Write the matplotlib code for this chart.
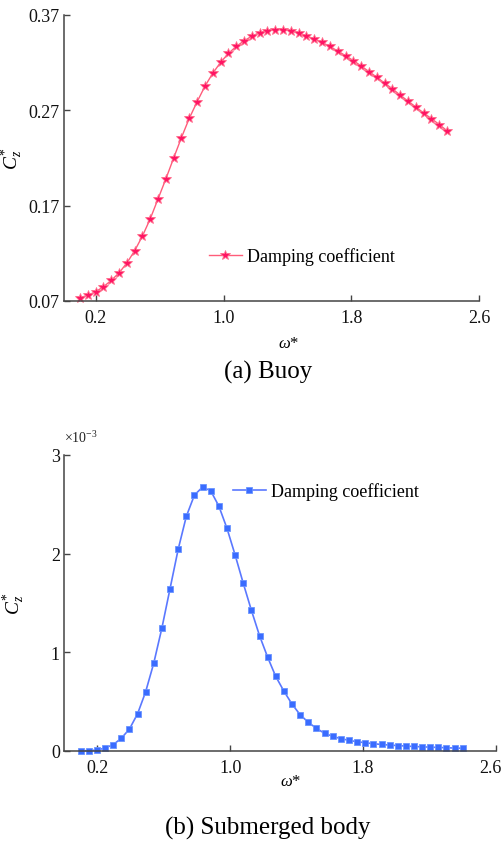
import numpy as np
import matplotlib
matplotlib.use("Agg")
import matplotlib.pyplot as plt
from matplotlib.transforms import ScaledTranslation

plt.rcParams['font.family'] = ['Liberation Serif', 'DejaVu Serif']
plt.rcParams['mathtext.fontset'] = 'custom'
plt.rcParams['mathtext.rm'] = 'Liberation Serif'
plt.rcParams['mathtext.it'] = 'Liberation Serif:italic'

# frequency grid (same for both panels)
omega = [0.100, 0.149, 0.198, 0.247, 0.296, 0.345, 0.394, 0.443, 0.491, 0.540,
         0.589, 0.638, 0.687, 0.736, 0.785, 0.834, 0.883, 0.932, 0.981, 1.030,
         1.079, 1.128, 1.177, 1.226, 1.274, 1.323, 1.372, 1.421, 1.470, 1.519,
         1.568, 1.617, 1.666, 1.715, 1.764, 1.813, 1.862, 1.911, 1.960, 2.009,
         2.057, 2.106, 2.155, 2.204, 2.253, 2.302, 2.351, 2.400]

# (a) buoy damping coefficient
buoy = [0.0734, 0.0760, 0.0797, 0.0849, 0.0916, 0.0995, 0.1099, 0.1228, 0.1380, 0.1561,
        0.1770, 0.1980, 0.2200, 0.2415, 0.2617, 0.2790, 0.2953, 0.3089, 0.3203, 0.3297,
        0.3370, 0.3429, 0.3478, 0.3516, 0.3537, 0.3547, 0.3547, 0.3533, 0.3509, 0.3481,
        0.3447, 0.3412, 0.3370, 0.3322, 0.3273, 0.3221, 0.3165, 0.3106, 0.3047, 0.2985,
        0.2926, 0.2860, 0.2797, 0.2735, 0.2672, 0.2613, 0.2551, 0.2485]

# (b) submerged body damping coefficient, in units of 1e-3
body = [0.003, 0.003, 0.010, 0.030, 0.064, 0.129, 0.223, 0.378, 0.598, 0.889,
        1.245, 1.644, 2.043, 2.377, 2.594, 2.675, 2.637, 2.482, 2.256, 1.986,
        1.699, 1.425, 1.168, 0.949, 0.757, 0.608, 0.476, 0.368, 0.291, 0.230,
        0.179, 0.149, 0.125, 0.108, 0.094, 0.084, 0.074, 0.066, 0.060, 0.055,
        0.050, 0.046, 0.042, 0.039, 0.036, 0.033, 0.030, 0.028]

xticks = [0.2, 1.0, 1.8, 2.6]
xlabels = ['0.2', '1.0', '1.8', '2.6']
yticks_a = [0.07, 0.17, 0.27, 0.37]
yticks_b = [0, 1, 2, 3]

W, H = 501, 845
fig = plt.figure(figsize=(W / 100, H / 100), dpi=100)


def px_axes(x0, x1, ytop, ybot):
    return fig.add_axes([x0 / W, 1 - ybot / H, (x1 - x0) / W, (ybot - ytop) / H])


def style(ax):
    for s in ['top', 'right']:
        ax.spines[s].set_visible(False)
    for s in ['left', 'bottom']:
        ax.spines[s].set_color('#444444')
        ax.spines[s].set_linewidth(1.1)
    ax.tick_params(direction='in', length=4, width=1, color='#444444',
                   labelsize=13, labelcolor='#111111')
    ax.tick_params(axis='x', pad=6)
    ax.tick_params(axis='y', pad=3)


# ---- (a) Buoy
ax1 = px_axes(64, 479, 16, 302)
ax1.plot(omega, buoy, color='#ff5c7a', lw=1.0, marker='*', ms=7.5,
         mfc='#ff1464', mec='#ff6e8c', mew=0.6, label='Damping coefficient', clip_on=False)
ax1.set_xlim(0, 2.6)
ax1.set_ylim(0.07, 0.37)
ax1.set_xticks(xticks)
ax1.set_xticklabels(xlabels)
ax1.set_yticks(yticks_a)
ax1.set_yticklabels(['0.07', '0.17', '0.27', '0.37'])
style(ax1)
ax1.set_ylabel(r'$C^{*}_{z}$', fontsize=14)
ax1.yaxis.set_label_coords(-0.095, 0.5)
ax1.set_xlabel(r'$\omega$*', fontsize=12)
ax1.xaxis.set_label_coords((289 - 64) / 415, -(336 - 302) / 286)
ax1.legend(loc='center left', bbox_to_anchor=((209 - 64) / 415, (302 - 257) / 286),
           frameon=False, fontsize=13, handlelength=1.8, handletextpad=0.3,
           borderpad=0, borderaxespad=0)
fig.text(268 / W, 1 - 372 / H, '(a) Buoy', ha='center', va='center', fontsize=18)

# ---- (b) Submerged body
ax2 = px_axes(64, 496, 456, 752)
ax2.plot(omega, body, color='#5a78ff', lw=1.2, marker='s', ms=3.8,
         mfc='#3a6cff', mec='#6a94ff', mew=0.6, label='Damping coefficient', clip_on=False)
ax2.set_xlim(0, 2.6)
ax2.set_ylim(0, 3)
ax2.set_xticks(xticks)
ax2.set_xticklabels(xlabels)
ax2.set_yticks(yticks_b)
ax2.set_yticklabels(['0', '1', '2', '3'])
style(ax2)
# last tick label sits at the right edge: nudge it in a little
last = ax2.get_xticklabels()[-1]
last.set_transform(last.get_transform() + ScaledTranslation(-6 / 100, 0, fig.dpi_scale_trans))
ax2.set_ylabel(r'$C^{*}_{z}$', fontsize=14)
ax2.yaxis.set_label_coords(-0.085, 0.5)
ax2.set_xlabel(r'$\omega$*', fontsize=12)
ax2.xaxis.set_label_coords((291 - 64) / 432, -(774 - 752) / 296)
ax2.text(0.0, 1.035, r'$\times$10$^{-3}$', transform=ax2.transAxes, fontsize=10,
         ha='left', va='bottom', color='#222222')
ax2.legend(loc='center left', bbox_to_anchor=((233 - 64) / 432, (752 - 492) / 296),
           frameon=False, fontsize=13, handlelength=1.8, handletextpad=0.3,
           borderpad=0, borderaxespad=0)
fig.text(268 / W, 1 - 828 / H, '(b) Submerged body', ha='center', va='center', fontsize=18)

fig.savefig('out.png', dpi=100)
